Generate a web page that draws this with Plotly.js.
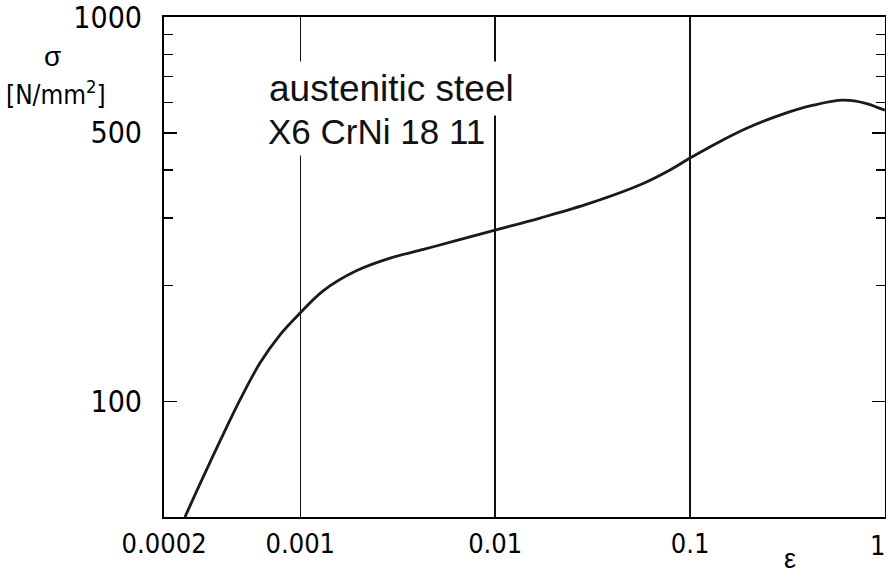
<!DOCTYPE html>
<html>
<head>
<meta charset="utf-8">
<script src="https://cdn.plot.ly/plotly-3.0.1.min.js"></script>
<style>html,body{margin:0;padding:0;background:#fff;}#chart{width:886px;height:574px;}</style>
</head>
<body>
<div id="chart"></div>
<script>
// strain values (log scale)
const strain = [0.000256, 0.000306, 0.000388, 0.000491, 0.000622, 0.000787, 0.001, 0.00131, 0.00195, 0.00289, 0.00428, 0.00636, 0.01, 0.017, 0.0307, 0.0575, 0.0789, 0.1, 0.1426, 0.1954, 0.2895, 0.429, 0.611, 0.806, 0.943, 1.0];
// stress values [N/mm^2]
const stress = [50, 61.1, 79, 101, 126, 149, 170, 194, 219, 236, 248.6, 262.3, 279, 300, 328, 369, 400, 430, 475, 514, 556, 590, 608, 596, 579, 573];

const xTickVals = [0.0002, 0.001, 0.01, 0.1];
const xTickText = ["0.0002", "0.001", "0.01", "0.1"];
const xEndLabel = "1";
const yTickVals = [100, 500, 1000];
const yTickText = ["100", "500", "1000"];
const yMinorVals = [200, 300, 400, 600, 700, 800, 900];

const narrow = "Liberation Sans Narrow, DejaVu Sans Condensed, Arial Narrow, sans-serif";
const plain = "Liberation Sans, Arial, sans-serif";

const trace = {
  x: strain, y: stress, mode: 'lines', type: 'scatter',
  line: {color: '#1a1a1a', width: 2.8, shape: 'spline', smoothing: 1.0},
  hoverinfo: 'skip'
};

const layout = {
  width: 886, height: 574,
  margin: {l: 164, r: 1, t: 17, b: 57},
  paper_bgcolor: '#fff', plot_bgcolor: '#fff',
  showlegend: false,
  xaxis: {
    type: 'log', range: [Math.log10(0.0002) - 0.0005, 0.0005],
    tickmode: 'array', tickvals: xTickVals, ticktext: xTickText,
    ticks: '', showgrid: true, gridcolor: '#111', gridwidth: 1.4,
    showline: true, linecolor: '#000', linewidth: 2, mirror: true,
    zeroline: false, ticklabelstandoff: 2, ticklabeloverflow: 'allow',
    tickfont: {family: narrow, size: 27, color: '#000'}
  },
  yaxis: {
    type: 'log', range: [Math.log10(50), 3.0005],
    tickmode: 'array', tickvals: yTickVals, ticktext: yTickText,
    ticks: 'inside', ticklen: 13, tickwidth: 1.5, tickcolor: '#000',
    minor: {tickmode: 'array', tickvals: yMinorVals, ticks: 'inside', ticklen: 9, tickwidth: 1.2, tickcolor: '#000', showgrid: false},
    showgrid: false, showline: true, linecolor: '#000', linewidth: 2, mirror: 'ticks',
    zeroline: false, ticklabelstandoff: 14, ticklabeloverflow: 'allow',
    tickfont: {family: narrow, size: 30, color: '#000'}
  },
  annotations: [
    {xref: 'paper', yref: 'paper', x: 0.136, y: 0.858, xanchor: 'left', yanchor: 'middle',
     text: 'austenitic steel', showarrow: false, bgcolor: '#fff', borderpad: 6,
     font: {family: plain, size: 37, color: '#111'}},
    {xref: 'paper', yref: 'paper', x: 0.138, y: 0.772, xanchor: 'left', yanchor: 'middle',
     text: 'X6 CrNi 18 11', showarrow: false, bgcolor: '#fff', borderpad: 4,
     font: {family: plain, size: 35, color: '#111'}},
    {xref: 'paper', yref: 'paper', x: 1.0, y: -0.057, xanchor: 'right', yanchor: 'middle', xshift: 1,
     text: xEndLabel, showarrow: false, borderpad: 0, font: {family: narrow, size: 27, color: '#000'}},
    {xref: 'paper', yref: 'paper', x: -0.154, y: 0.92, xanchor: 'center', yanchor: 'middle',
     text: 'σ', showarrow: false, font: {family: plain, size: 28, color: '#000'}},
    {xref: 'paper', yref: 'paper', x: -0.150, y: 0.848, xanchor: 'center', yanchor: 'middle',
     text: '[N/mm<sup>2</sup>]', showarrow: false, font: {family: narrow, size: 26, color: '#000'}},
    {xref: 'paper', yref: 'paper', x: 0.868, y: -0.083, xanchor: 'center', yanchor: 'middle',
     text: 'ε', showarrow: false, height: 22, valign: 'middle', font: {family: plain, size: 27, color: '#000'}}
  ]
};

Plotly.newPlot('chart', [trace], layout, {staticPlot: true, displayModeBar: false});
</script>
</body>
</html>
